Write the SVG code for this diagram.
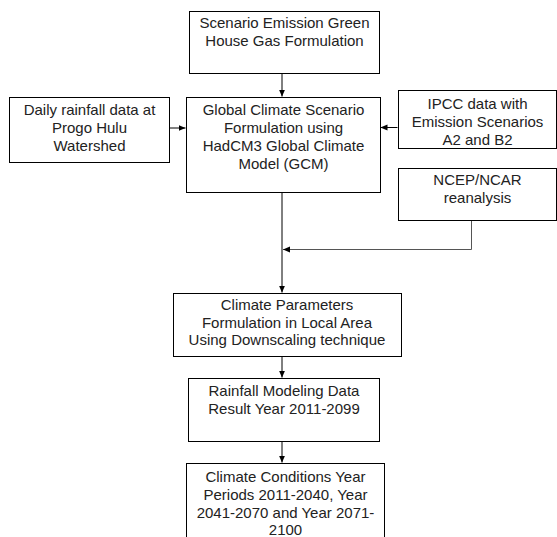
<svg xmlns="http://www.w3.org/2000/svg" width="557" height="537" viewBox="0 0 557 537">
<style>
.box{fill:#fff;stroke:#000;stroke-width:1}
text{font-family:"Liberation Sans",Arial,sans-serif;font-size:15px;fill:#222;text-anchor:middle}
.c{stroke:#000;stroke-width:1;fill:none}
.g{stroke:#555;stroke-width:1;fill:none}
</style>
<defs>
<marker id="ah" viewBox="0 0 8 8" refX="8" refY="4" markerWidth="7" markerHeight="7" markerUnits="userSpaceOnUse" orient="auto">
<path d="M0,0.5 L8,4 L0,7.5 Z" fill="#000"/>
</marker>
</defs>
<rect width="557" height="537" fill="#fff"/>
<g id="connectors">
<line class="c" x1="282" y1="73.5" x2="282" y2="96.5" marker-end="url(#ah)"/>
<line class="c" x1="169.5" y1="128" x2="185.5" y2="128" marker-end="url(#ah)"/>
<line class="c" x1="397.5" y1="127.5" x2="380.5" y2="127.5" marker-end="url(#ah)"/>
<line class="c" x1="282" y1="192.5" x2="282" y2="292.5" marker-end="url(#ah)"/>
<polyline class="g" points="471.5,220.5 471.5,249.5 283,249.5" marker-end="url(#ah)"/>
<line class="c" x1="282" y1="356.5" x2="282" y2="377.5" marker-end="url(#ah)"/>
<line class="c" x1="282" y1="441.5" x2="282" y2="462.5" marker-end="url(#ah)"/>
</g>
<g id="node-scenario">
<rect class="box" x="189.5" y="11.5" width="190" height="62"/>
<text x="284.5" y="28">Scenario Emission Green</text>
<text x="284.5" y="46">House Gas Formulation</text>
</g>
<g id="node-daily">
<rect class="box" x="9.5" y="97.5" width="160" height="65"/>
<text x="89.5" y="115">Daily rainfall data at</text>
<text x="89.5" y="133">Progo Hulu</text>
<text x="89.5" y="151">Watershed</text>
</g>
<g id="node-gcm">
<rect class="box" x="186.5" y="97.5" width="194" height="95"/>
<text x="283.5" y="115">Global Climate Scenario</text>
<text x="283.5" y="133">Formulation using</text>
<text x="283.5" y="151">HadCM3 Global Climate</text>
<text x="283.5" y="169">Model (GCM)</text>
</g>
<g id="node-ipcc">
<rect class="box" x="398.5" y="90.5" width="158" height="58"/>
<text x="477.5" y="109">IPCC data with</text>
<text x="477.5" y="127">Emission Scenarios</text>
<text x="477.5" y="145">A2 and B2</text>
</g>
<g id="node-ncep">
<rect class="box" x="398.5" y="168.5" width="158" height="52"/>
<text x="477.5" y="185">NCEP/NCAR</text>
<text x="477.5" y="203">reanalysis</text>
</g>
<g id="node-params">
<rect class="box" x="173.5" y="293.5" width="228" height="63"/>
<text x="287" y="310">Climate Parameters</text>
<text x="287" y="328">Formulation in Local Area</text>
<text x="287" y="345">Using Downscaling technique</text>
</g>
<g id="node-rainfall">
<rect class="box" x="188.5" y="378.5" width="191" height="63"/>
<text x="284" y="396">Rainfall Modeling Data</text>
<text x="284" y="414">Result Year 2011-2099</text>
</g>
<g id="node-conditions">
<rect class="box" x="186.5" y="463.5" width="198" height="80"/>
<text x="285.5" y="482">Climate Conditions Year</text>
<text x="285.5" y="500">Periods 2011-2040, Year</text>
<text x="285.5" y="518">2041-2070 and Year 2071-</text>
<text x="285.5" y="535">2100</text>
</g>
</svg>
